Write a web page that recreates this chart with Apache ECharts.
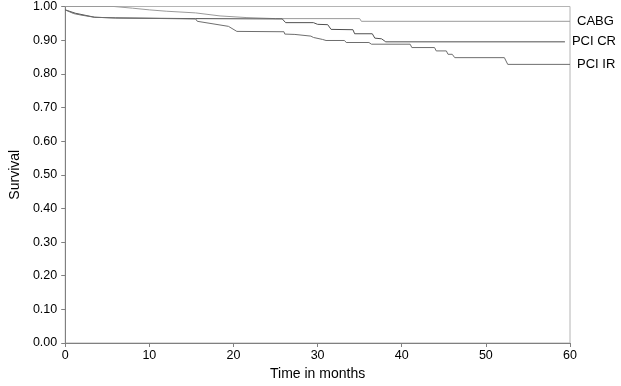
<!DOCTYPE html>
<html>
<head>
<meta charset="utf-8">
<script src="https://cdn.jsdelivr.net/npm/echarts@6/dist/echarts.min.js"></script>
<style>html,body{margin:0;padding:0;background:#fff;}#c{width:621px;height:386px;}</style>
</head>
<body>
<div id="c"></div>
<script>
const seriesNames = ['CABG', 'PCI CR', 'PCI IR'];
const xTicks = [0, 10, 20, 30, 40, 50, 60];

const cabgT = [0, 5.8, 8, 10, 12, 15.5, 18.4, 21.6, 25, 35, 35.2, 60];
const cabgS = [1.0, 1.0, 0.995, 0.99, 0.986, 0.981, 0.972, 0.967, 0.964, 0.964, 0.956, 0.956];

const pciCrT = [0, 1.2, 3.5, 6, 15.5, 25.8, 26.2, 29.5, 30, 31.2, 31.6, 34.2, 34.4, 36.5, 36.8, 37.6, 38.1, 59.4];
const pciCrS = [0.99, 0.98, 0.968, 0.966, 0.964, 0.963, 0.952, 0.952, 0.947, 0.946, 0.932, 0.931, 0.919, 0.919, 0.906, 0.904, 0.895, 0.895];

const pciIrT = [0, 1, 2, 3.5, 6, 15.5, 15.7, 19.4, 20.4, 26.0, 26.1, 27.3, 27.5, 29.2, 29.5, 30.6, 31, 33.2, 33.4, 36.1, 36.4, 41, 41.2, 43.9, 44.1, 45.3, 45.5, 46, 46.3, 52.2, 52.6, 60];
const pciIrS = [0.99, 0.979, 0.974, 0.968, 0.966, 0.963, 0.956, 0.941, 0.926, 0.925, 0.918, 0.917, 0.912, 0.912, 0.908, 0.902, 0.899, 0.899, 0.893, 0.893, 0.888, 0.888, 0.878, 0.878, 0.868, 0.868, 0.858, 0.858, 0.848, 0.848, 0.828, 0.828];

function pairs(t, s) { return t.map((v, i) => [v, s[i]]); }

const chart = echarts.init(document.getElementById('c'), null, {renderer: 'canvas'});
const font = 'Liberation Sans, Arial, sans-serif';
const colors = ['#9a9a9a', '#505050', '#6e6e6e'];
const data = [pairs(cabgT, cabgS), pairs(pciCrT, pciCrS), pairs(pciIrT, pciIrS)];

chart.setOption({
  animation: false,
  backgroundColor: '#fff',
  grid: {left: 54, right: 51, top: 6, bottom: 40, show: true, borderColor: '#b4b4b4', borderWidth: 1, containLabel: false},
  xAxis: {
    type: 'value', min: 0, max: 60, interval: 10,
    name: 'Time in months', nameLocation: 'middle', nameGap: 24,
    nameTextStyle: {fontFamily: font, fontSize: 14, color: '#000'},
    axisLine: {show: true, lineStyle: {color: '#808080', width: 1}},
    axisTick: {show: true, length: 4, lineStyle: {color: '#808080'}},
    axisLabel: {fontFamily: font, fontSize: 12.5, color: '#000', margin: 6,
      formatter: v => xTicks.includes(v) ? String(v) : ''},
    splitLine: {show: false}
  },
  yAxis: {
    type: 'value', min: 0, max: 1, interval: 0.1,
    name: 'Survival', nameLocation: 'middle', nameGap: 39,
    nameTextStyle: {fontFamily: font, fontSize: 14, color: '#000'},
    axisLine: {show: true, lineStyle: {color: '#808080', width: 1}},
    axisTick: {show: true, length: 4, lineStyle: {color: '#808080'}},
    axisLabel: {fontFamily: font, fontSize: 12.5, color: '#000', margin: 8,
      formatter: v => v.toFixed(2)},
    splitLine: {show: false}
  },
  series: seriesNames.map((n, i) => ({
    name: n, type: 'line', data: data[i], showSymbol: false, symbol: 'none',
    lineStyle: {color: colors[i], width: 1},
    endLabel: {show: true, formatter: n, fontFamily: font, fontSize: 13, color: '#000', distance: 7},
    silent: true
  }))
});
</script>
</body>
</html>
